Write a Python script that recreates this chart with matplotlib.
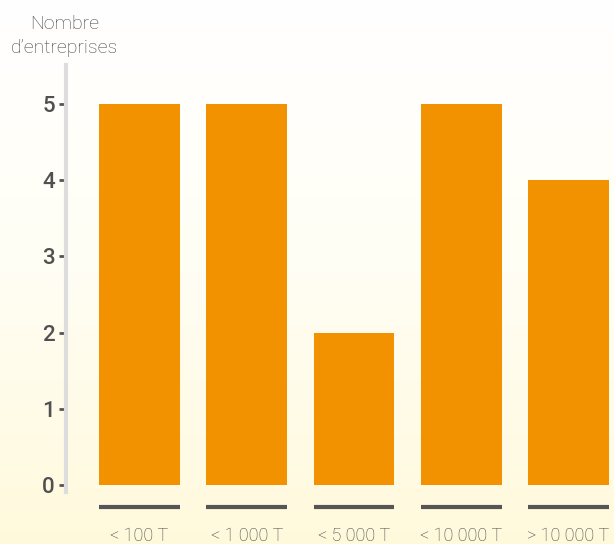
import numpy as np
import matplotlib.pyplot as plt
from matplotlib.colors import LinearSegmentedColormap

categories = ['< 100 T', '< 1 000 T', '< 5 000 T', '< 10 000 T', '> 10 000 T']
counts = [5, 5, 2, 5, 4]
yticks = [0, 1, 2, 3, 4, 5]

W, H = 614, 544
fig = plt.figure(figsize=(W/100, H/100), dpi=100)

# gradient background, white at top to pale yellow at bottom
bg = fig.add_axes([0, 0, 1, 1])
cmap = LinearSegmentedColormap.from_list('bg', ['#FFFFFF', '#FFFEF4', '#FFF9DC'])
grad = np.linspace(0, 1, 256).reshape(-1, 1)
bg.imshow(grad, aspect='auto', cmap=cmap, extent=[0, 1, 0, 1])
bg.axis('off')

# axes placed in pixel terms
left, right, top, bottom = 66, 614, 65, 492
ax = fig.add_axes([left/W, 1 - bottom/H, (right-left)/W, (bottom-top)/H])
ax.patch.set_alpha(0)

x = np.arange(len(categories))
ax.bar(x, counts, width=0.755, color='#F39200')

ax.set_xlim((66-139.5)/107.25, (614-139.5)/107.25)
ax.set_ylim((485-492)/76.2, (485-65)/76.2)

ax.set_yticks(yticks)
ax.set_yticklabels([str(v) for v in yticks], fontsize=16, color='#505050',
                   family='Roboto', weight='medium')
ax.tick_params(axis='y', length=5, width=2, color='#555555', pad=3)
ax.set_xticks([])
for s in ['top', 'right', 'bottom']:
    ax.spines[s].set_visible(False)
ax.spines['left'].set_color('#DDDDDD')
ax.spines['left'].set_linewidth(3)

# underlines and category labels below the bars
uy = (485-507)/76.2
ly = (485-536)/76.2
for i, c in enumerate(categories):
    ax.plot([i-0.377, i+0.377], [uy, uy], color='#555555', lw=3,
            solid_capstyle='butt', clip_on=False)
    ax.text(i, ly, c, ha='center', va='center', fontsize=13, color='#444444',
            family='Roboto', weight='light', clip_on=False)

fig.text(65/W, 1 - 36/H, 'Nombre\nd\u2019entreprises', ha='center', va='center',
         fontsize=14, color='#444444', family='Roboto', weight='light',
         linespacing=1.45)

fig.savefig('out.png', dpi=100)
